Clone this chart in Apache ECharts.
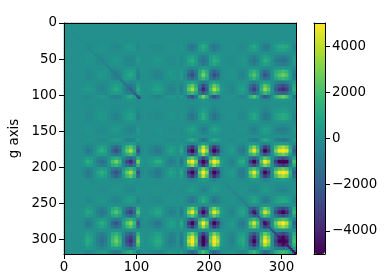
<!DOCTYPE html>
<html>
<head>
<meta charset="utf-8">
<style>html,body{margin:0;padding:0;background:#fff}#chart{width:389px;height:280px}</style>
<script src="https://cdn.jsdelivr.net/npm/echarts@6/dist/echarts.min.js"></script>
</head>
<body>
<div id="chart"></div>
<script>
// in hundreds, one row per 5 units of the g axis
var cellRows = [
[0,0,0,0,0,0,0,0,0,0,0,0,0,0,0,0,0,0,0,0,0,0,0,0,0,0,0,0,0,0,0,0,0,0,0,0,0,0,0,0,0,0,0,0,0,0,0,0,0,0,0,0,0,0,0,0,0,0,0,0,0,0,0,0],
[0,0,0,0,0,0,0,0,0,0,0,0,0,0,0,0,0,0,0,0,0,0,0,0,0,0,0,0,0,0,0,0,0,0,0,0,0,0,0,0,0,0,0,0,0,0,0,0,0,0,0,0,0,0,0,0,0,0,0,0,0,0,0,0],
[0,0,0,0,0,0,0,0,0,0,0,0,0,0,0,0,0,0,0,0,0,0,0,0,0,0,0,0,0,0,0,0,0,0,0,0,0,0,0,0,0,0,0,0,0,0,0,0,0,0,0,0,0,0,0,0,0,0,0,0,0,0,0,0],
[0,0,0,0,0,0,0,0,0,0,0,0,0,0,0,0,0,0,0,0,0,0,0,0,0,0,0,0,0,0,0,0,0,0,0,0,0,0,0,0,0,0,0,0,0,0,0,0,0,0,0,0,0,0,0,0,0,0,0,0,0,0,0,0],
[0,0,0,0,0,0,0,0,0,0,0,0,0,0,0,0,0,0,0,0,0,0,0,0,0,0,0,0,0,0,0,0,0,0,0,0,0,0,0,0,0,0,0,0,0,0,0,0,0,0,0,0,0,0,0,0,0,0,0,0,0,0,0,0],
[0,0,0,0,0,0,-1,0,0,0,0,0,0,-1,-1,0,0,1,1,1,-1,0,0,0,0,0,0,0,0,0,0,0,0,0,-2,-3,-1,1,3,2,-1,-3,-2,0,0,0,0,0,0,0,0,1,2,1,-1,-2,-2,0,1,2,3,2,1,-1],
[0,0,0,0,0,0,-1,-1,0,1,2,1,0,-2,-3,-2,1,3,4,2,-3,0,0,-1,-1,-2,-2,-1,1,2,1,0,2,-1,-7,-11,-5,5,12,6,-5,-11,-7,-1,0,1,1,0,-2,-2,0,6,9,5,-4,-10,-7,0,6,9,11,9,3,-4],
[0,0,0,0,0,0,-1,-1,0,1,1,1,0,-2,-2,-1,1,2,3,2,-2,0,0,0,-1,-2,-2,0,0,1,1,0,2,-1,-5,-8,-4,4,9,5,-4,-8,-5,-1,0,0,1,0,-1,-2,0,4,7,3,-3,-7,-5,0,4,7,8,6,2,-3],
[0,0,0,0,0,0,0,0,0,0,0,0,0,0,0,0,0,0,0,0,0,0,0,0,0,0,0,0,0,0,0,0,0,0,0,0,0,0,0,0,0,0,0,0,0,0,0,0,0,0,0,0,0,0,0,0,0,0,0,0,0,0,0,0],
[0,0,0,0,0,0,1,1,0,-1,-1,-1,0,2,2,1,-1,-2,-3,-2,2,0,0,0,1,2,2,0,0,-1,-1,0,-2,1,5,8,4,-4,-9,-5,4,8,5,1,0,0,-1,0,1,2,0,-4,-7,-3,3,7,5,0,-4,-7,-8,-6,-2,3],
[0,0,0,0,0,0,2,1,0,-1,-2,-1,0,2,4,2,-1,-4,-5,-2,4,0,0,1,1,3,3,1,-1,-2,-1,0,-3,1,9,13,6,-6,-14,-8,6,13,9,1,0,-1,-1,0,2,3,0,-7,-11,-6,5,12,8,0,-7,-11,-14,-11,-3,4],
[0,0,0,0,0,0,1,1,0,-1,-1,-1,0,2,2,1,-1,-2,-3,-2,2,0,0,0,1,2,2,0,0,-1,-1,0,-2,1,5,8,4,-4,-9,-5,4,8,5,1,0,0,-1,0,1,2,0,-4,-7,-3,3,7,5,0,-4,-7,-8,-6,-2,3],
[0,0,0,0,0,0,-1,0,0,0,0,0,0,-1,-1,0,0,1,1,1,-1,0,0,0,0,0,0,0,0,0,0,0,0,0,-2,-3,-1,1,3,2,-1,-3,-2,0,0,0,0,0,0,0,0,1,2,1,-1,-2,-2,0,1,2,3,2,1,-1],
[0,0,0,0,0,0,-2,-2,0,2,2,2,0,-4,-5,-3,2,5,7,4,-5,0,0,-1,-2,-4,-4,-1,1,3,2,0,4,-2,-12,-18,-9,9,20,11,-9,-18,-12,-2,0,1,2,0,-3,-4,0,10,16,8,-7,-17,-11,0,10,16,19,15,4,-6],
[0,0,0,0,0,0,-3,-2,0,2,4,2,0,-5,-7,-5,2,7,11,5,-7,0,0,-1,-2,-5,-5,-1,1,4,2,0,5,-2,-18,-26,-12,12,29,15,-12,-26,-18,-2,0,1,2,0,-4,-5,0,14,22,11,-10,-24,-16,0,14,22,28,21,6,-9],
[0,0,0,0,0,0,-2,-1,0,1,2,1,0,-3,-5,-3,1,5,6,3,-5,0,0,-1,-2,-3,-3,-1,1,2,2,0,3,-2,-10,-16,-8,8,17,9,-8,-16,-10,-2,0,1,2,0,-2,-3,0,8,14,7,-6,-14,-10,0,8,14,17,13,4,-5],
[0,0,0,0,0,0,1,1,0,-1,-1,-1,0,2,2,1,-1,-2,-3,-2,2,0,0,0,1,2,2,0,0,-1,-1,0,-2,1,5,8,4,-4,-9,-5,4,8,5,1,0,0,-1,0,1,2,0,-4,-7,-3,3,7,5,0,-4,-7,-8,-6,-2,3],
[0,0,0,0,0,0,3,2,0,-2,-4,-2,0,5,7,5,-2,-7,-11,-5,7,0,0,1,2,5,5,1,-1,-4,-2,0,-5,2,18,26,12,-12,-29,-15,12,26,18,2,0,-1,-2,0,4,5,0,-14,-22,-11,10,24,16,0,-14,-22,-28,-21,-6,9],
[0,0,0,0,0,1,4,3,0,-3,-5,-3,1,7,11,6,-3,-11,-15,-7,11,1,0,2,4,7,7,2,-2,-5,-4,0,-7,4,24,37,18,-18,-40,-21,18,37,24,4,0,-2,-4,0,5,7,0,-19,-32,-16,14,33,23,0,-19,-32,-38,-30,-9,12],
[0,0,0,0,0,1,2,2,0,-2,-2,-2,1,4,5,3,-2,-5,-7,-4,5,1,0,1,2,4,4,1,-1,-3,-2,0,-4,2,12,18,9,-9,-20,-11,9,18,12,2,0,-1,-2,0,3,4,0,-10,-16,-8,7,17,11,0,-10,-16,-19,-15,-4,6],
[0,0,0,0,0,-1,-3,-2,0,2,4,2,-1,-5,-7,-5,2,7,11,5,-8,-1,0,-1,-2,-5,-5,-1,1,4,2,0,5,-2,-18,-26,-12,12,29,15,-12,-26,-18,-2,0,1,2,0,-4,-5,0,14,22,11,-10,-24,-16,0,14,22,28,21,6,-9],
[0,0,0,0,0,0,-1,0,0,0,0,0,0,-1,-1,0,0,1,1,1,-1,0,0,0,0,0,0,0,0,0,0,0,0,0,-2,-3,-1,1,3,2,-1,-3,-2,0,0,0,0,0,0,0,0,1,2,1,-1,-2,-2,0,1,2,3,2,1,-1],
[0,0,0,0,0,0,0,0,0,0,0,0,0,0,0,0,0,0,0,0,0,0,0,0,0,0,0,0,0,0,0,0,0,0,0,0,0,0,0,0,0,0,0,0,0,0,0,0,0,0,0,0,0,0,0,0,0,0,0,0,0,0,0,0],
[0,0,0,0,0,0,-1,-1,0,0,1,0,0,-1,-1,-1,0,1,2,1,-1,0,0,0,0,0,0,0,0,0,0,0,0,0,-2,-3,-1,1,3,2,-1,-3,-2,0,0,0,0,0,0,0,0,1,2,1,-1,-2,-2,0,1,2,3,2,1,-1],
[0,0,0,0,0,0,-1,-1,0,1,1,1,0,-2,-2,-1,1,2,4,2,-2,0,0,0,0,-1,-1,0,0,1,0,0,1,0,-3,-5,-2,2,6,3,-2,-5,-3,0,0,0,0,0,-1,-1,0,3,4,2,-2,-5,-3,0,3,4,5,4,1,-2],
[0,0,0,0,0,0,-2,-2,0,2,3,2,-1,-4,-5,-3,2,5,7,4,-5,-1,0,-1,-1,-2,-2,-1,1,2,1,0,2,-1,-7,-11,-5,5,12,6,-5,-11,-7,-1,0,1,1,0,-2,-2,0,6,9,5,-4,-10,-7,0,6,9,11,9,3,-4],
[0,0,0,0,0,0,-2,-2,0,2,3,2,-1,-4,-5,-3,2,5,7,4,-5,-1,0,-1,-1,-2,-2,-1,1,2,1,0,2,-1,-7,-11,-5,5,12,6,-5,-11,-7,-1,0,1,1,0,-2,-2,0,6,9,5,-4,-10,-7,0,6,9,11,9,3,-4],
[0,0,0,0,0,0,-1,-1,0,0,1,0,0,-1,-1,-1,0,1,2,1,-1,0,0,0,0,0,0,0,0,0,0,0,0,0,-2,-3,-1,1,3,2,-1,-3,-2,0,0,0,0,0,0,0,0,1,2,1,-1,-2,-2,0,1,2,3,2,1,-1],
[0,0,0,0,0,0,1,1,0,0,-1,0,0,1,1,1,0,-1,-2,-1,1,0,0,0,0,0,0,0,0,0,0,0,0,0,2,3,1,-1,-3,-2,1,3,2,0,0,0,0,0,0,0,0,-1,-2,-1,1,2,2,0,-1,-2,-3,-2,-1,1],
[0,0,0,0,0,0,2,1,0,-1,-2,-1,0,3,4,2,-1,-4,-5,-3,4,0,0,0,1,2,2,0,0,-1,-1,0,-2,1,5,8,4,-4,-9,-5,4,8,5,1,0,0,-1,0,1,2,0,-4,-7,-3,3,7,5,0,-4,-7,-8,-6,-2,3],
[0,0,0,0,0,0,1,1,0,-1,-1,-1,0,2,2,1,-1,-2,-4,-2,2,0,0,0,0,1,1,0,0,-1,0,0,-1,0,3,5,2,-2,-6,-3,2,5,3,0,0,0,0,0,1,1,0,-3,-4,-2,2,5,3,0,-3,-4,-5,-4,-1,2],
[0,0,0,0,0,0,0,0,0,0,0,0,0,0,0,0,0,0,0,0,0,0,0,0,0,0,0,0,0,0,0,0,0,0,0,0,0,0,0,0,0,0,0,0,0,0,0,0,0,0,0,0,0,0,0,0,0,0,0,0,0,0,0,0],
[0,0,0,0,0,0,2,2,0,-2,-3,-2,1,4,5,3,-2,-5,-7,-4,5,1,0,1,1,2,2,1,-1,-2,-1,0,-2,1,7,11,5,-5,-12,-6,5,11,7,1,0,-1,-1,0,2,2,0,-6,-9,-5,4,10,7,0,-6,-9,-11,-9,-3,4],
[0,0,0,0,0,0,-1,-1,0,1,1,1,0,-2,-2,-1,1,2,4,2,-2,0,0,0,0,-1,-1,0,0,1,0,0,1,0,-3,-5,-2,2,6,3,-2,-5,-3,0,0,0,0,0,-1,-1,0,3,4,2,-2,-5,-3,0,3,4,5,4,1,-2],
[0,0,0,0,0,-2,-7,-5,0,5,9,5,-2,-12,-18,-10,5,18,24,12,-18,-2,0,-2,-4,-7,-7,-2,2,5,4,0,7,-4,-24,-37,-18,18,40,21,-18,-37,-24,-4,0,2,4,0,-5,-7,0,19,32,16,-14,-33,-23,0,19,32,38,30,9,-12],
[0,0,0,0,0,-3,-10,-8,0,8,13,8,-3,-18,-26,-16,8,26,37,18,-26,-3,0,-3,-5,-10,-10,-3,3,8,5,0,10,-5,-37,-50,-26,26,50,32,-26,-50,-37,-5,0,3,5,0,-8,-10,0,29,47,24,-21,-50,-34,0,29,47,50,45,13,-18],
[0,0,0,0,0,-1,-5,-4,0,4,6,4,-1,-9,-12,-8,4,12,18,9,-12,-1,0,-1,-2,-5,-5,-1,1,4,2,0,5,-2,-18,-26,-12,12,29,15,-12,-26,-18,-2,0,1,2,0,-4,-5,0,14,22,11,-10,-24,-16,0,14,22,28,21,6,-9],
[0,0,0,0,0,1,5,4,0,-4,-6,-4,1,9,12,8,-4,-12,-18,-9,12,1,0,1,2,5,5,1,-1,-4,-2,0,-5,2,18,26,12,-12,-29,-15,12,26,18,2,0,-1,-2,0,4,5,0,-14,-22,-11,10,24,16,0,-14,-22,-28,-21,-6,9],
[0,0,0,0,0,3,12,9,0,-9,-14,-9,3,20,29,17,-9,-29,-40,-20,29,3,0,3,6,12,12,3,-3,-9,-6,0,-12,6,40,50,29,-29,-50,-35,29,50,40,6,0,-3,-6,0,9,12,0,-32,-50,-26,23,50,37,0,-32,-50,-50,-49,-14,20],
[0,0,0,0,0,2,6,5,0,-5,-8,-5,2,11,15,9,-5,-15,-21,-11,15,2,0,2,3,6,6,2,-2,-5,-3,0,-6,3,21,32,15,-15,-35,-18,15,32,21,3,0,-2,-3,0,5,6,0,-17,-27,-14,12,29,20,0,-17,-27,-33,-26,-8,11],
[0,0,0,0,0,-1,-5,-4,0,4,6,4,-1,-9,-12,-8,4,12,18,9,-12,-1,0,-1,-2,-5,-5,-1,1,4,2,0,5,-2,-18,-26,-12,12,29,15,-12,-26,-18,-2,0,1,2,0,-4,-5,0,14,22,11,-10,-24,-16,0,14,22,28,21,6,-9],
[0,0,0,0,0,-3,-10,-8,0,8,13,8,-3,-18,-26,-16,8,26,37,18,-26,-3,0,-3,-5,-10,-10,-3,3,8,5,0,10,-5,-37,-50,-26,26,50,32,-26,-50,-37,-5,0,3,5,0,-8,-10,0,29,47,24,-21,-50,-34,0,29,47,50,45,13,-18],
[0,0,0,0,0,-2,-7,-5,0,5,9,5,-2,-12,-18,-10,5,18,24,12,-18,-2,0,-2,-4,-7,-7,-2,2,5,4,0,7,-4,-24,-37,-18,18,40,21,-18,-37,-24,-4,0,2,4,0,-5,-7,0,19,32,16,-14,-33,-23,0,19,32,38,30,9,-12],
[0,0,0,0,0,0,-1,-1,0,1,1,1,0,-2,-2,-1,1,2,4,2,-2,0,0,0,0,-1,-1,0,0,1,0,0,1,0,-3,-5,-2,2,6,3,-2,-5,-3,0,0,0,0,0,-1,-1,0,3,4,2,-2,-5,-3,0,3,4,5,4,1,-2],
[0,0,0,0,0,0,0,0,0,0,0,0,0,0,0,0,0,0,0,0,0,0,0,0,0,0,0,0,0,0,0,0,0,0,0,0,0,0,0,0,0,0,0,0,0,0,0,0,0,0,0,0,0,0,0,0,0,0,0,0,0,0,0,0],
[0,0,0,0,0,0,1,1,0,0,-1,0,0,1,1,1,0,-1,-2,-1,1,0,0,0,0,0,0,0,0,0,0,0,0,0,2,3,1,-1,-3,-2,1,3,2,0,0,0,0,0,0,0,0,-1,-2,-1,1,2,2,0,-1,-2,-3,-2,-1,1],
[0,0,0,0,0,0,1,1,0,-1,-1,-1,0,2,2,1,-1,-2,-4,-2,2,0,0,0,0,1,1,0,0,-1,0,0,-1,0,3,5,2,-2,-6,-3,2,5,3,0,0,0,0,0,1,1,0,-3,-4,-2,2,5,3,0,-3,-4,-5,-4,-1,2],
[0,0,0,0,0,0,0,0,0,0,0,0,0,0,0,0,0,0,0,0,0,0,0,0,0,0,0,0,0,0,0,0,0,0,0,0,0,0,0,0,0,0,0,0,0,0,0,0,0,0,0,0,0,0,0,0,0,0,0,0,0,0,0,0],
[0,0,0,0,0,0,-2,-1,0,1,2,1,0,-3,-4,-2,1,4,5,3,-4,0,0,0,-1,-2,-2,0,0,1,1,0,2,-1,-5,-8,-4,4,9,5,-4,-8,-5,-1,0,0,1,0,-1,-2,0,4,7,3,-3,-7,-5,0,4,7,8,6,2,-3],
[0,0,0,0,0,0,-2,-2,0,2,3,2,-1,-4,-5,-3,2,5,7,4,-5,-1,0,-1,-1,-2,-2,-1,1,2,1,0,2,-1,-7,-11,-5,5,12,6,-5,-11,-7,-1,0,1,1,0,-2,-2,0,6,9,5,-4,-10,-7,0,6,9,11,9,3,-4],
[0,0,0,0,0,0,0,0,0,0,0,0,0,0,0,0,0,0,0,0,0,0,0,0,0,0,0,0,0,0,0,0,0,0,0,0,0,0,0,0,0,0,0,0,0,0,0,0,0,0,0,0,0,0,0,0,0,0,0,0,0,0,0,0],
[0,0,0,0,0,1,6,4,0,-4,-7,-4,1,10,14,8,-4,-14,-19,-10,14,1,0,1,3,6,6,1,-1,-4,-3,0,-6,3,19,29,14,-14,-32,-17,14,29,19,3,0,-1,-3,0,4,6,0,-15,-25,-12,11,26,18,0,-15,-25,-30,-23,-7,10],
[0,0,0,0,0,2,9,7,0,-7,-11,-7,2,16,23,14,-7,-23,-32,-16,23,2,0,2,5,9,9,2,-2,-7,-5,0,-9,5,32,47,23,-23,-50,-27,23,47,32,5,0,-2,-5,0,7,9,0,-25,-41,-20,18,43,29,0,-25,-41,-50,-38,-11,16],
[0,0,0,0,0,1,5,3,0,-3,-6,-3,1,8,11,7,-3,-11,-16,-8,11,1,0,1,2,5,5,1,-1,-3,-2,0,-5,2,16,24,11,-11,-26,-14,11,24,16,2,0,-1,-2,0,3,5,0,-12,-20,-10,9,21,15,0,-12,-20,-25,-19,-6,8],
[0,0,0,0,0,-1,-4,-3,0,3,5,3,-1,-7,-10,-6,3,10,14,7,-10,-1,0,-1,-2,-4,-4,-1,1,3,2,0,4,-2,-14,-21,-10,10,23,12,-10,-21,-14,-2,0,1,2,0,-3,-4,0,11,18,9,-8,-19,-13,0,11,18,22,17,5,-7],
[0,0,0,0,0,-2,-10,-7,0,7,12,7,-2,-17,-24,-14,7,24,33,17,-24,-2,0,-2,-5,-10,-10,-2,2,7,5,0,10,-5,-33,-50,-24,24,50,29,-24,-50,-33,-5,0,2,5,0,-7,-10,0,26,43,21,-19,-45,-31,0,26,43,50,40,12,-17],
[0,0,0,0,0,-2,-7,-5,0,5,8,5,-2,-11,-16,-10,5,16,23,11,-16,-2,0,-2,-3,-7,-7,-2,2,5,3,0,7,-3,-23,-34,-16,16,37,20,-16,-34,-23,-3,0,2,3,0,-5,-7,0,18,29,15,-13,-31,-21,0,18,29,36,28,8,-11],
[0,0,0,0,0,0,0,0,0,0,0,0,0,0,0,0,0,0,0,0,0,0,0,0,0,0,0,0,0,0,0,0,0,0,0,0,0,0,0,0,0,0,0,0,0,0,0,0,0,0,0,0,0,0,0,0,0,0,0,0,0,0,0,0],
[0,0,0,0,0,1,6,4,0,-4,-7,-4,1,10,14,8,-4,-14,-19,-10,14,1,0,1,3,6,6,1,-1,-4,-3,0,-6,3,19,29,14,-14,-32,-17,14,29,19,3,0,-1,-3,0,4,6,0,-15,-25,-12,11,26,18,0,-15,-25,-30,-23,-7,10],
[0,0,0,0,0,2,9,7,0,-7,-11,-7,2,16,23,14,-7,-23,-32,-16,23,2,0,2,5,9,9,2,-2,-7,-5,0,-9,5,32,47,23,-23,-50,-27,23,47,32,5,0,-2,-5,0,7,9,0,-25,-41,-20,18,43,29,0,-25,-41,-50,-38,-11,16],
[0,0,0,0,0,3,11,8,0,-8,-14,-8,3,19,28,17,-8,-28,-39,-19,28,3,0,3,6,11,11,3,-3,-8,-6,0,-11,6,39,50,28,-28,-50,-33,28,50,39,6,0,-3,-6,0,8,11,0,-30,-50,-25,22,50,36,0,-30,-50,-50,-47,-14,19],
[0,0,0,0,0,2,9,6,0,-6,-11,-6,2,15,21,13,-6,-21,-30,-15,21,2,0,2,4,9,9,2,-2,-6,-4,0,-9,4,30,45,21,-21,-49,-26,21,45,30,4,0,-2,-4,0,6,9,0,-23,-38,-19,17,40,28,0,-23,-38,-47,-36,-11,15],
[0,0,0,0,0,0,3,2,0,-2,-3,-2,1,4,6,4,-2,-6,-9,-4,6,1,0,1,1,3,3,1,-1,-2,-1,0,-3,1,9,13,6,-6,-14,-8,6,13,9,1,0,-1,-1,0,2,3,0,-7,-11,-6,5,12,8,0,-7,-11,-14,-11,-3,4],
[0,0,0,0,0,-1,-4,-3,0,3,4,3,-1,-6,-9,-5,3,9,12,6,-9,-1,0,-1,-2,-4,-4,-1,1,3,2,0,4,-2,-12,-18,-9,9,20,11,-9,-18,-12,-2,0,1,2,0,-3,-4,0,10,16,8,-7,-17,-11,0,10,16,19,15,4,-6]
];
// thin dark diagonal, one value per 2.5 units
var lowDiag = [-1,-1,-1,-1,-2,-2,-2,-2,-3,-3,-3,-3,-3,-4,-4,-4,-5,-5,-5,-6,-6,-6,-8,-8,-10,-10,-10,-11,-11,-12,-13,-14,-20,-20,-22,-24,-28,-32];
var lowDiagStart = 4;
var highDiag = [-2,-2,-3,-3,-3,-4,-4,-5,-5,-6,-6,-7,-8,-9,-18,-20,-44,-45,-22,-22,-20,-22,-47,-47,-28,-28,-28,-30,-32,-33,-44,-45,-50,-50,-42,-44,-45,-46,-48,-50];
var highDiagStart = 88;
var xTicks = [0, 100, 200, 300];
var yTicks = [0, 50, 100, 150, 200, 250, 300];
var barTicks = [-4000, -2000, 0, 2000, 4000];
var viridis = ['#440154', '#482878', '#3e4989', '#31688e', '#26828e', '#1f9e89', '#35b779', '#6ece58', '#b5de2b', '#fde725'];

var cellNames = cellRows.map(function (r, i) { return i });
var diagNames = [];
for (var d = 0; d < 128; d++) diagNames.push(d);

var cellData = [];
cellRows.forEach(function (row, y) {
    row.forEach(function (v, x) {
        cellData.push([x, y, v * 100]);
    });
});
var diagData = [];
lowDiag.forEach(function (v, i) {
    diagData.push([lowDiagStart + i, lowDiagStart + i, v * 100]);
});
highDiag.forEach(function (v, i) {
    diagData.push([highDiagStart + i, highDiagStart + i, v * 100]);
});

var font = {fontFamily: 'DejaVu Sans', fontSize: 13.4, color: '#000'};
var black = {color: '#000', width: 1};

function hiddenCat(names, grid, pos, inverse) {
    return {
        type: 'category', gridIndex: grid, data: names, position: pos, inverse: !!inverse, z: 5,
        axisLine: {show: true, onZero: false, lineStyle: black},
        axisTick: {show: false}, axisLabel: {show: false}, splitLine: {show: false}
    };
}

var chart = echarts.init(document.getElementById('chart'));
chart.setOption({
    animation: false,
    backgroundColor: '#fff',
    grid: [
        // teal behind the cells so the seams between them do not show white
        {left: 64, top: 23, width: 232, height: 231, outerBoundsMode: 'none', show: true, backgroundColor: '#22908c', borderWidth: 0},
        {left: 314, top: 23, width: 11, height: 231, outerBoundsMode: 'none'}
    ],
    xAxis: [
        hiddenCat(cellNames, 0, 'top'),
        {
            type: 'value', gridIndex: 0, min: 0, max: 320, position: 'bottom', z: 5,
            axisLine: {show: true, onZero: false, lineStyle: black},
            axisTick: {show: true, length: 5, lineStyle: black, customValues: xTicks},
            axisLabel: {show: true, margin: 7, customValues: xTicks, fontFamily: font.fontFamily, fontSize: font.fontSize, color: font.color},
            splitLine: {show: false}
        },
        {type: 'category', gridIndex: 0, data: diagNames, show: false},
        {type: 'value', gridIndex: 1, min: 0, max: 1, position: 'bottom', z: 5, axisLine: {show: true, onZero: false, lineStyle: black}, axisTick: {show: false}, axisLabel: {show: false}, splitLine: {show: false}},
        {type: 'value', gridIndex: 1, min: 0, max: 1, position: 'top', z: 5, axisLine: {show: true, onZero: false, lineStyle: black}, axisTick: {show: false}, axisLabel: {show: false}, splitLine: {show: false}}
    ],
    yAxis: [
        hiddenCat(cellNames, 0, 'right', true),
        {
            type: 'value', gridIndex: 0, min: 0, max: 320, inverse: true, position: 'left', z: 5,
            name: 'g axis', nameLocation: 'middle', nameGap: 43, nameRotate: 90,
            nameTextStyle: {fontFamily: font.fontFamily, fontSize: font.fontSize, color: font.color},
            axisLine: {show: true, onZero: false, lineStyle: black},
            axisTick: {show: true, length: 5, lineStyle: black, customValues: yTicks},
            axisLabel: {show: true, margin: 7, customValues: yTicks, fontFamily: font.fontFamily, fontSize: font.fontSize, color: font.color},
            splitLine: {show: false}
        },
        {type: 'category', gridIndex: 0, data: diagNames, inverse: true, show: false},
        {
            type: 'value', gridIndex: 1, min: -5000, max: 5000, position: 'right', z: 5,
            axisLine: {show: true, onZero: false, lineStyle: black},
            axisTick: {show: true, length: 5, lineStyle: black, customValues: barTicks},
            axisLabel: {
                show: true, margin: 7, customValues: barTicks, fontFamily: font.fontFamily, fontSize: font.fontSize, color: font.color,
                formatter: function (v) { return String(v).replace('-', '\u2212') }
            },
            splitLine: {show: false}
        },
        {type: 'value', gridIndex: 1, min: -5000, max: 5000, position: 'left', z: 5, axisLine: {show: true, onZero: false, lineStyle: black}, axisTick: {show: false}, axisLabel: {show: false}, splitLine: {show: false}}
    ],
    visualMap: {
        type: 'continuous', min: -5000, max: 5000, left: 314, top: 23, itemWidth: 11, itemHeight: 231,
        padding: 0, calculable: false, realtime: false, seriesIndex: [0, 1], z: 1,
        inRange: {color: viridis}
    },
    series: [
        {type: 'heatmap', xAxisIndex: 0, yAxisIndex: 0, data: cellData, progressive: 0, itemStyle: {borderWidth: 0}, emphasis: {disabled: true}},
        {type: 'heatmap', xAxisIndex: 2, yAxisIndex: 2, data: diagData, progressive: 0, itemStyle: {borderWidth: 0}, emphasis: {disabled: true}}
    ]
});
</script>
</body>
</html>
